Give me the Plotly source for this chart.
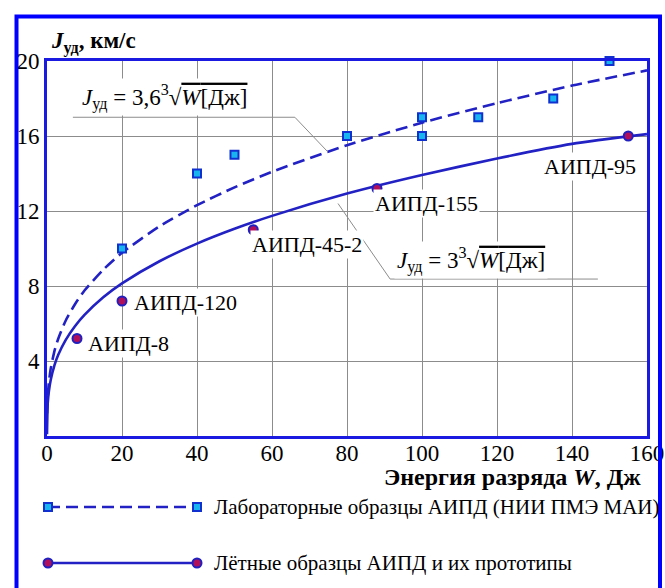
import plotly.graph_objects as go

# ---------------- data ----------------
lab_W = [20, 40, 50, 80, 100, 100, 115, 135, 150]
lab_J = [10, 14, 15, 16, 16, 17, 17, 18, 20]

flight_W = [8, 20, 55, 88, 155]
flight_J = [5.2, 7.2, 11.0, 13.2, 16.0]
flight_names = ["АИПД-8", "АИПД-120", "АИПД-45-2", "АИПД-155", "АИПД-95"]

fit_W = [0, 0.2, 0.5, 1, 2, 3, 5, 7.5, 10, 15, 20, 30, 40, 50, 60, 80, 100, 120, 140, 160]
lab_fit_J = [1.2, 2.11, 2.86, 3.6, 4.54, 5.19, 6.16, 7.04, 7.76, 8.87, 9.77, 11.18,
             12.31, 13.26, 14.09, 15.51, 16.71, 17.75, 18.69, 19.5]
flight_fit_J = [0.1, 1.75, 2.38, 3.0, 3.78, 4.33, 5.13, 5.87, 6.46, 7.40, 8.14, 9.32,
                10.26, 11.05, 11.74, 12.93, 13.92, 14.80, 15.58, 16.1]

x_ticks = [0, 20, 40, 60, 80, 100, 120, 140, 160]
y_ticks = [4, 8, 12, 16, 20]

legend_names = ["Лабораторные образцы АИПД (НИИ ПМЭ МАИ)",
                "Лётные образцы АИПД и их прототипы"]

# ---------------- styles ----------------
W_PX, H_PX = 665, 588
SERIF = "Liberation Serif"
LINE_BLUE = "#2222c4"
SQ_FILL = "#18b4f0"
SQ_EDGE = "#1030d0"
DOT_FILL = "#b0105a"
DOT_EDGE = "#2020c0"
GRID = "#8c8c8c"

plot_l, plot_r, plot_t, plot_b = 47, 647, 61, 436

fig = go.Figure()

fig.add_trace(go.Scatter(x=fit_W, y=lab_fit_J, mode="lines",
                         line=dict(color=LINE_BLUE, width=2.6, dash="12px,6px",
                                   shape="spline", smoothing=0.6),
                         showlegend=False, cliponaxis=False))
fig.add_trace(go.Scatter(x=fit_W, y=flight_fit_J, mode="lines",
                         line=dict(color=LINE_BLUE, width=2.6,
                                   shape="spline", smoothing=0.6),
                         showlegend=False, cliponaxis=False))
fig.add_trace(go.Scatter(x=lab_W, y=lab_J, mode="markers",
                         marker=dict(symbol="square", size=8, color=SQ_FILL,
                                     line=dict(color=SQ_EDGE, width=2)),
                         showlegend=False, cliponaxis=False))
fig.add_trace(go.Scatter(x=flight_W, y=flight_J, mode="markers",
                         marker=dict(symbol="circle", size=9, color=DOT_FILL,
                                     line=dict(color=DOT_EDGE, width=2)),
                         showlegend=False, cliponaxis=False))

# legend samples drawn on a pixel overlay axis
leg_x = [48, 197]
leg_y = [507, 563]
fig.add_trace(go.Scatter(x=leg_x, y=[leg_y[0]] * 2, xaxis="x2", yaxis="y2",
                         mode="lines+markers",
                         line=dict(color=LINE_BLUE, width=2.6, dash="12px,6px"),
                         marker=dict(symbol="square", size=8, color=SQ_FILL,
                                     line=dict(color=SQ_EDGE, width=2)),
                         showlegend=False, cliponaxis=False))
fig.add_trace(go.Scatter(x=leg_x, y=[leg_y[1]] * 2, xaxis="x2", yaxis="y2",
                         mode="lines+markers",
                         line=dict(color=LINE_BLUE, width=2.6),
                         marker=dict(symbol="circle", size=9, color=DOT_FILL,
                                     line=dict(color=DOT_EDGE, width=2)),
                         showlegend=False, cliponaxis=False))

annotations = []
label_offsets = [(9, -5, "left"), (10, -1, "left"), (-3, -15, "left"),
                 (-4, -15, "left"), (10, -31, "right")]
for w, j, name, (dx, dy, anc) in zip(flight_W, flight_J, flight_names, label_offsets):
    annotations.append(dict(x=w, y=j, xref="x", yref="y", text=name, showarrow=False,
                            xanchor=anc, yanchor="middle", xshift=dx, yshift=dy,
                            font=dict(family=SERIF, size=22, color="black"),
                            bgcolor="white", borderpad=1))

formula1 = ('<i>J</i><sub>уд</sub> = 3,6<sup>3</sup>√'
            '<span style="text-decoration:overline"><i>W</i>[Дж]</span>')
formula2 = ('<i>J</i><sub>уд</sub> = 3<sup>3</sup>√'
            '<span style="text-decoration:overline"><i>W</i>[Дж]</span>')
annotations.append(dict(x=8.6, y=18.1, xref="x", yref="y", text=formula1, showarrow=False,
                        xanchor="left", yanchor="middle",
                        font=dict(family=SERIF, size=23, color="black"),
                        bgcolor="white", borderpad=2))
annotations.append(dict(x=92.4, y=9.4, xref="x", yref="y", text=formula2, showarrow=False,
                        xanchor="left", yanchor="middle",
                        font=dict(family=SERIF, size=23, color="black"),
                        bgcolor="white", borderpad=2))

annotations.append(dict(x=49, y=42, xref="x2", yref="y2",
                        text="<b><i>J</i><sub>уд</sub>, км/с</b>", showarrow=False,
                        xanchor="left", yanchor="middle",
                        font=dict(family=SERIF, size=23, color="black")))
annotations.append(dict(x=643, y=477, xref="x2", yref="y2",
                        text="<b>Энергия разряда <i>W</i>, Дж</b>", showarrow=False,
                        xanchor="right", yanchor="middle",
                        font=dict(family=SERIF, size=24, color="black")))
for yy, name in zip(leg_y, legend_names):
    annotations.append(dict(x=212, y=yy, xref="x2", yref="y2", text=name, showarrow=False,
                            xanchor="left", yanchor="middle",
                            font=dict(family=SERIF, size=21, color="black")))

shapes = [
    dict(type="rect", xref="x2", yref="y2", x0=16.5, x1=660, y0=16.5, y1=600,
         line=dict(color="#0000ff", width=4), layer="above"),
    dict(type="path", xref="x", yref="y",
         path="M 6.9 17.0 L 66.1 17.0 L 74.9 15.15",
         line=dict(color=GRID, width=1)),
    dict(type="path", xref="x", yref="y",
         path="M 77.6 12.4 L 91.5 8.37 L 146.9 8.37",
         line=dict(color=GRID, width=1)),
]

fig.update_layout(
    width=W_PX, height=H_PX, autosize=False,
    margin=dict(l=0, r=0, t=0, b=0, pad=0, autoexpand=False),
    paper_bgcolor="white", plot_bgcolor="rgba(0,0,0,0)",
    showlegend=False,
    xaxis=dict(domain=[plot_l / W_PX, plot_r / W_PX], range=[0, 160],
               tickvals=x_ticks, ticktext=[str(v) for v in x_ticks],
               showgrid=True, gridcolor=GRID, gridwidth=1, zeroline=False,
               showline=True, linecolor="#1a1ae0", linewidth=3, mirror=True,
               ticks="", ticklabelstandoff=-6, automargin=False,
               tickfont=dict(family=SERIF, size=23, color="black"), anchor="y"),
    yaxis=dict(domain=[1 - plot_b / H_PX, 1 - plot_t / H_PX], range=[0, 20],
               tickvals=y_ticks, ticktext=[str(v) for v in y_ticks],
               showgrid=True, gridcolor=GRID, gridwidth=1, zeroline=False,
               showline=True, linecolor="#1a1ae0", linewidth=3, mirror=True,
               ticks="", ticklabelstandoff=0, automargin=False,
               tickfont=dict(family=SERIF, size=23, color="black"), anchor="x"),
    xaxis2=dict(domain=[0, 1], range=[0, W_PX], visible=False, anchor="y2",
                fixedrange=True, automargin=False),
    yaxis2=dict(domain=[0, 1], range=[H_PX, 0], visible=False, anchor="x2",
                fixedrange=True, automargin=False),
    annotations=annotations,
    shapes=shapes,
)

fig.write_html("out.html")
